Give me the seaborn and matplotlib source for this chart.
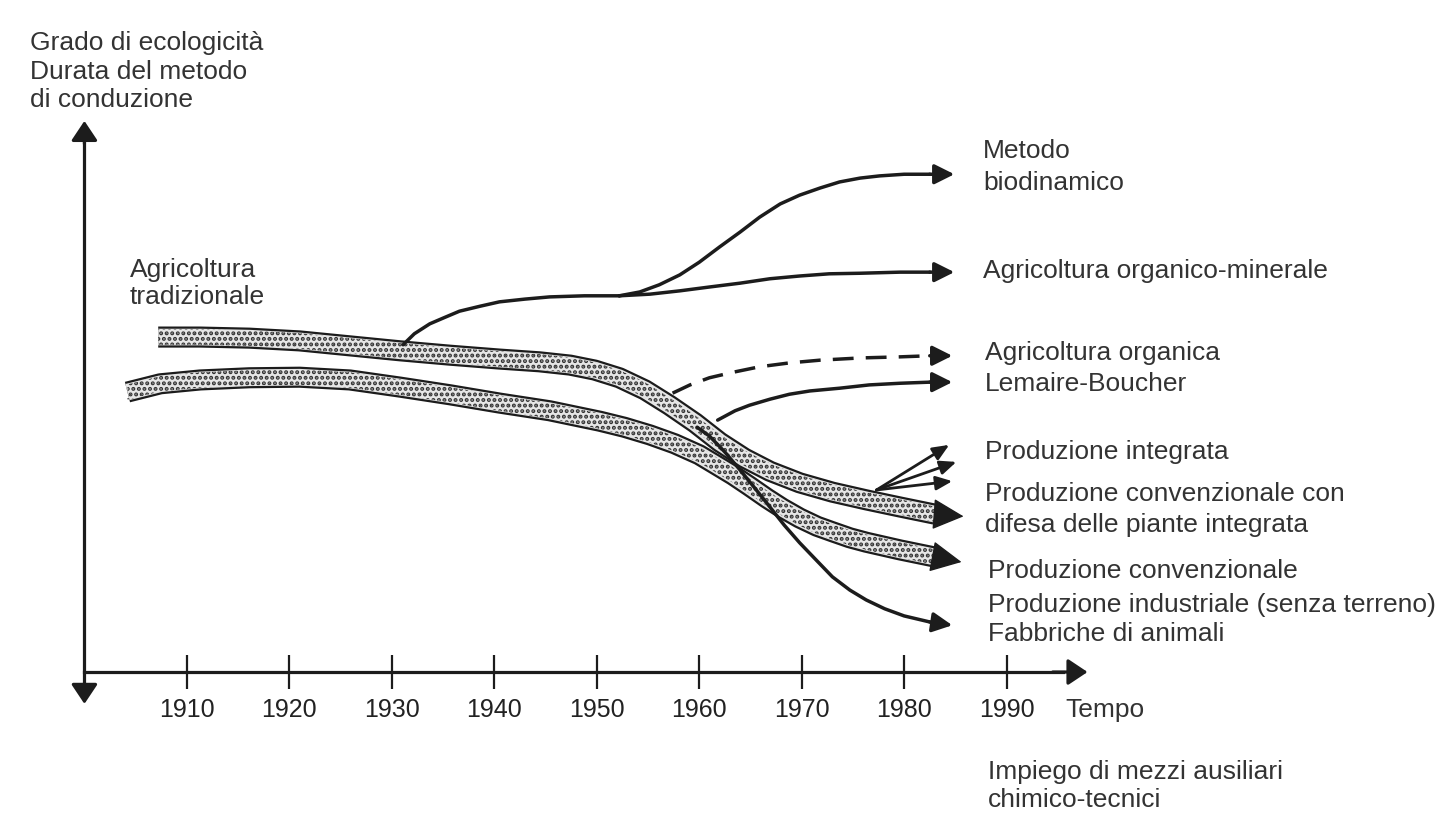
import numpy as np
import pandas as pd
import matplotlib
matplotlib.use('Agg')
import matplotlib.pyplot as plt
import seaborn as sns

# x = year, y = "grado di ecologicita" (0-100)
decades = [1910, 1920, 1930, 1940, 1950, 1960, 1970, 1980, 1990]

# the two stippled bands (centre lines) + arrow tips
band_top_x = [1907.2, 1911.3, 1916.1, 1921.0, 1925.9, 1930.8, 1935.7, 1940.5, 1944.4, 1947.4,
              1949.8, 1952.2, 1954.7, 1957.1, 1959.6, 1962.0, 1964.4, 1966.9, 1969.8, 1973.0,
              1976.3, 1979.6, 1983.0]
band_top_y = [60.9, 60.9, 60.7, 60.2, 59.3, 58.4, 57.6, 56.9, 56.4, 55.8,
              54.9, 53.5, 51.3, 48.5, 45.3, 41.8, 38.9, 36.5, 34.4, 32.7,
              31.3, 30.0, 28.7]
band_top_tip = (1985.8, 28.3)

band_low_x = [1904.2, 1907.4, 1911.3, 1916.1, 1921.0, 1925.9, 1930.8, 1935.7, 1940.5, 1945.4,
              1950.3, 1952.7, 1955.2, 1957.6, 1960.0, 1961.7, 1963.3, 1964.9, 1966.6, 1968.1,
              1969.8, 1971.5, 1973.0, 1974.7, 1976.3, 1979.6, 1983.0]
band_low_y = [50.9, 52.4, 53.1, 53.5, 53.6, 53.1, 51.8, 50.4, 48.9, 47.5,
              45.6, 44.5, 43.1, 41.5, 39.5, 37.6, 35.8, 33.8, 31.6, 29.8,
              28.0, 26.5, 25.5, 24.4, 23.6, 22.2, 20.9]
band_low_tip = (1985.6, 20.0)

# thin branches
trunk_x = [1931.1, 1932.2, 1933.7, 1935.2, 1936.6, 1938.6, 1940.5, 1943.0, 1945.4, 1948.8, 1952.2]
trunk_y = [59.5, 61.5, 63.3, 64.5, 65.6, 66.5, 67.3, 67.8, 68.2, 68.4, 68.4]

biodin_x = [1952.2, 1954.2, 1956.1, 1958.1, 1960.0, 1962.0, 1964.0, 1965.9, 1967.9, 1969.8,
            1971.8, 1973.7, 1975.7, 1977.6, 1980.0, 1982.5]
biodin_y = [68.4, 69.1, 70.4, 72.2, 74.5, 77.3, 80.0, 82.7, 85.1, 86.7,
            88.0, 89.1, 89.8, 90.2, 90.5, 90.5]
biodin_tip = (1984.9, 90.5)

orgmin_x = [1952.2, 1955.2, 1958.1, 1961.0, 1964.0, 1966.9, 1969.8, 1972.7, 1975.7, 1979.6, 1982.5]
orgmin_y = [68.4, 68.7, 69.3, 70.0, 70.7, 71.5, 72.0, 72.4, 72.5, 72.7, 72.7]
orgmin_tip = (1984.9, 72.7)

organica_x = [1957.4, 1959.1, 1961.0, 1963.3, 1965.9, 1968.8, 1971.8, 1975.7, 1979.6, 1982.5]
organica_y = [50.7, 52.2, 53.5, 54.5, 55.5, 56.2, 56.7, 57.1, 57.3, 57.5]
organica_tip = (1984.7, 57.5)

lemaire_x = [1961.8, 1963.5, 1964.9, 1966.9, 1968.8, 1970.8, 1973.7, 1976.6, 1979.6, 1982.5]
lemaire_y = [45.8, 47.5, 48.5, 49.6, 50.5, 51.1, 51.6, 52.2, 52.5, 52.7]
lemaire_tip = (1984.7, 52.7)

indust_x = [1959.8, 1961.0, 1962.5, 1964.0, 1965.4, 1966.9, 1968.3, 1969.8, 1971.5, 1973.0,
            1974.7, 1976.3, 1978.1, 1980.0, 1982.5]
indust_y = [44.5, 42.9, 40.0, 36.7, 33.5, 30.0, 26.7, 23.5, 20.2, 17.3,
            14.9, 13.1, 11.5, 10.2, 9.1]
indust_tip = (1984.7, 8.5)

fan_origin = (1977.3, 33.1)
fan_tips = [(1984.4, 41.3), (1985.1, 38.2), (1984.7, 34.7)]

labels = ["Grado di ecologicità", "Durata del metodo", "di conduzione",
          "Agricoltura", "tradizionale",
          "Metodo", "biodinamico",
          "Agricoltura organico-minerale",
          "Agricoltura organica", "Lemaire-Boucher",
          "Produzione integrata",
          "Produzione convenzionale con", "difesa delle piante integrata",
          "Produzione convenzionale", "Produzione industriale (senza terreno)", "Fabbriche di animali",
          "Tempo",
          "Impiego di mezzi ausiliari", "chimico-tecnici"]
label_x = [1894.7, 1894.7, 1894.7, 1904.4, 1904.4, 1987.7, 1987.7, 1987.7, 1987.9, 1987.9,
           1987.9, 1987.9, 1987.9, 1988.2, 1988.2, 1988.2, 1995.7, 1988.2, 1988.2]
label_y = [114.4, 109.1, 104.0, 73.1, 68.2, 94.7, 88.9, 72.9, 58.0, 52.4,
           40.0, 32.4, 26.7, 18.4, 12.2, 6.9, -6.9, -18.2, -23.3]

sns.set_theme(style='white')
plt.rcParams['font.family'] = ['Liberation Sans', 'DejaVu Sans']
plt.rcParams['hatch.linewidth'] = 2.0

INK = '#1c1c1c'
fig = plt.figure(figsize=(14.39, 8.34), dpi=100)
ax = fig.add_axes([0, 0, 1, 1])
ax.set_xlim(1891.76, 2032.2)
ax.set_ylim(-29.45, 122.18)


def arrow(ax, start, tip, scale=20, hl=0.6, hw=0.3, lw=2.5, z=3):
    ax.annotate('', xy=tip, xytext=start, zorder=z,
                arrowprops=dict(arrowstyle=f'-|>,head_length={hl},head_width={hw}',
                                mutation_scale=scale, color=INK, lw=lw,
                                shrinkA=0, shrinkB=0))


def draw_band(ax, x, y, tip, z):
    d = pd.DataFrame({'x': x, 'y': y})
    sns.lineplot(data=d, x='x', y='y', sort=False, estimator=None, ax=ax, color=INK,
                 lw=15.2, solid_capstyle='butt', solid_joinstyle='round', legend=False, zorder=z)
    sns.lineplot(data=d, x='x', y='y', sort=False, estimator=None, ax=ax, color='#e6e6e6',
                 lw=12.0, solid_capstyle='butt', solid_joinstyle='round', legend=False,
                 zorder=z + 0.1)
    yy = np.array(y)
    ax.fill_between(x, yy - 1.4, yy + 1.4, facecolor='none', edgecolor='#333333',
                    lw=0, hatch='...', zorder=z + 0.2)
    arrow(ax, (x[-1], y[-1]), tip, scale=20, hl=1.0, hw=0.5, lw=1.0, z=z + 0.3)


def draw_curve(ax, x, y, tip=None, dashed=False):
    d = pd.DataFrame({'x': x, 'y': y})
    ls = (0, (6, 3.5)) if dashed else '-'
    sns.lineplot(data=d, x='x', y='y', sort=False, estimator=None, ax=ax, color=INK,
                 lw=2.5, linestyle=ls, solid_joinstyle='round', legend=False, zorder=3)
    if tip is not None:
        arrow(ax, (x[-1], y[-1]), tip)


draw_band(ax, band_low_x, band_low_y, band_low_tip, 1.0)
draw_band(ax, band_top_x, band_top_y, band_top_tip, 1.5)

draw_curve(ax, trunk_x, trunk_y)
draw_curve(ax, biodin_x, biodin_y, biodin_tip)
draw_curve(ax, orgmin_x, orgmin_y, orgmin_tip)
draw_curve(ax, organica_x, organica_y, organica_tip, dashed=True)
draw_curve(ax, lemaire_x, lemaire_y, lemaire_tip)
draw_curve(ax, indust_x, indust_y, indust_tip)
for t in fan_tips:
    arrow(ax, fan_origin, t, scale=14, hl=0.7, hw=0.3, lw=2.0)

# axes drawn as arrows
for s in ['top', 'right']:
    ax.spines[s].set_visible(False)
ax.spines['left'].set_position(('data', 1900))
ax.spines['bottom'].set_position(('data', 0))
ax.spines['left'].set_bounds(-3.0, 97.0)
ax.spines['bottom'].set_bounds(1900, 1995.5)
for s in ['left', 'bottom']:
    ax.spines[s].set_linewidth(2.3)
    ax.spines[s].set_color(INK)
arrow(ax, (1900, 96.0), (1900, 100.2), scale=20, hl=0.6, hw=0.4, lw=2.3)
arrow(ax, (1900, -2.0), (1900, -5.8), scale=20, hl=0.6, hw=0.4, lw=2.3)
arrow(ax, (1994.5, 0), (1997.9, 0), scale=20, hl=0.6, hw=0.4, lw=2.3)

ax.set_yticks([])
ax.set_xticks(decades)
ax.set_xticklabels([str(d) for d in decades])
ax.tick_params(axis='x', direction='inout', length=24, width=1.6, pad=7,
               labelsize=18, labelcolor='#222222', color=INK, bottom=True)
ax.set_xlabel('')
ax.set_ylabel('')

for txt, tx, ty in zip(labels, label_x, label_y):
    ax.text(tx, ty, txt, ha='left', va='center', fontsize=19, color='#333333')

fig.savefig('out.png', dpi=100, facecolor='white')
